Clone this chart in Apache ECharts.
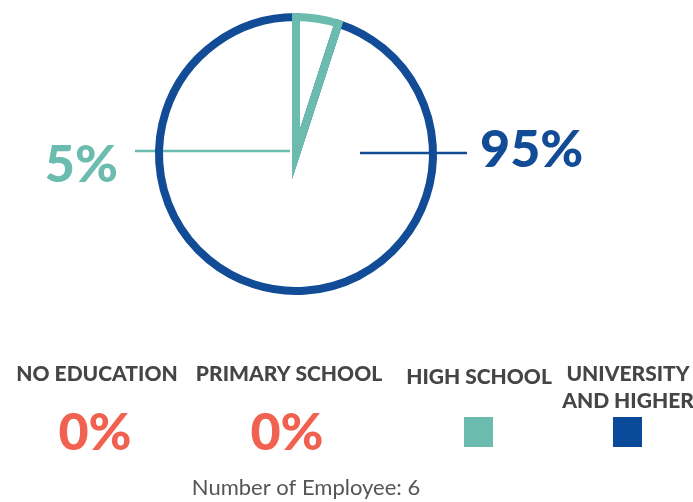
<!DOCTYPE html>
<html>
<head>
<meta charset="utf-8">
<script src="https://cdn.jsdelivr.net/npm/echarts@6/dist/echarts.min.js"></script>
<style>
html,body{margin:0;padding:0;background:#fff;}
#chart{width:693px;height:502px;}
</style>
</head>
<body>
<div id="chart"></div>
<script>
// ---- data ----
var categories = ['NO EDUCATION', 'PRIMARY SCHOOL', 'HIGH SCHOOL', 'UNIVERSITY\nAND HIGHER'];
var values = [0, 0, 5, 95];
var colors = ['#F06150', '#F06150', '#6BBCAE', '#124B96'];
var employeeCount = 6;

// ---- layout ----
var cx = 296, cy = 154, R = 137;
var headerX = [97, 289, 479, 628];
var headerY = [374, 374, 377, 388];
var FONT = 'Lato, "Open Sans", sans-serif';

var chart = echarts.init(document.getElementById('chart'), null, {renderer: 'canvas'});

// pie data: nonzero categories; blue drawn first so teal sits on top
var pieData = [];
for (var i = categories.length - 1; i >= 0; i--) {
  if (values[i] > 0) {
    pieData.push({
      name: categories[i],
      value: values[i],
      itemStyle: {color: 'rgba(255,255,255,0)', borderColor: colors[i]},
      label: {color: colors[i]},
      labelLine: {lineStyle: {color: colors[i]}}
    });
  }
}
var startAngle = 90 - 360 * values[2] / 100;

var graphics = [];
categories.forEach(function (c, i) {
  graphics.push({
    type: 'text',
    x: headerX[i], y: headerY[i],
    style: {
      text: c, fill: '#454545', font: '900 21px ' + FONT,
      textAlign: 'center', textVerticalAlign: 'middle', lineHeight: 27
    }
  });
  if (values[i] === 0) {
    graphics.push({
      type: 'text', x: headerX[i] - 2, y: 433,
      style: {text: values[i] + '%', fill: colors[i], font: '900 52px ' + FONT,
        textAlign: 'center', textVerticalAlign: 'middle'}
    });
  } else {
    graphics.push({
      type: 'rect', shape: {x: headerX[i] - 15, y: 417, width: 29, height: 30},
      style: {fill: i === 3 ? '#0A4A9A' : colors[i]}
    });
  }
});
graphics.push({
  type: 'text', x: 306, y: 488,
  style: {text: 'Number of Employee: ' + employeeCount, fill: '#555555',
    font: '22px ' + FONT, textAlign: 'center', textVerticalAlign: 'middle'}
});

chart.setOption({
  animation: false,
  series: [{
    type: 'pie',
    center: [cx, cy],
    radius: [0, R],
    startAngle: startAngle,
    clockwise: true,
    avoidLabelOverlap: false,
    itemStyle: {borderWidth: 8, borderJoin: 'miter', borderMiterLimit: 10},
    emphasis: {disabled: true},
    label: {
      show: true,
      formatter: '{c}%',
      fontFamily: FONT,
      fontWeight: 900,
      fontSize: 52
    },
    labelLine: {show: true, length: 10, length2: 10, lineStyle: {width: 2.5}},
    labelLayout: function (p) {
      var name = pieData[p.dataIndex].name;
      if (name === 'HIGH SCHOOL') {
        return {
          x: 118, y: 165, align: 'right', verticalAlign: 'middle',
          labelLinePoints: [[cx - 6, cy - 3], [cx - 80, cy - 3], [135, cy - 3]]
        };
      }
      return {
        x: 480, y: 150, align: 'left', verticalAlign: 'middle',
        labelLinePoints: [[360, cy - 1], [420, cy - 1], [467, cy - 1]]
      };
    },
    data: pieData
  }],
  graphic: graphics
});
</script>
</body>
</html>
